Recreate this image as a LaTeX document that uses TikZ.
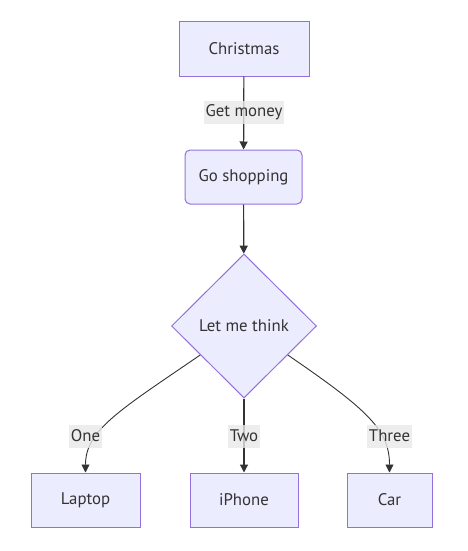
\documentclass[tikz,border=0pt]{standalone}
\usepackage{fontspec}
\setmainfont{PT Sans}
\usetikzlibrary{shapes.geometric,arrows.meta,calc}
\definecolor{nodefill}{HTML}{ECECFF}
\definecolor{nodeline}{HTML}{9370DB}
\definecolor{txt}{HTML}{333333}
\definecolor{lblbg}{HTML}{E8E8E8}
\begin{document}
\begin{tikzpicture}[x=1pt,y=-1pt,
 box/.style={draw=nodeline,fill=nodefill,line width=1pt,minimum height=54pt,inner sep=0pt,text=txt,font=\fontsize{16.8}{19}\selectfont},
 rbox/.style={box,rounded corners=5pt},
 choice/.style={box,diamond,minimum width=145pt,minimum height=144pt},
 lbl/.style={fill=lblbg,fill opacity=0.8,text opacity=1,text=txt,inner xsep=1.5pt,inner ysep=0pt,minimum height=23pt,font=\fontsize{16.8}{19}\selectfont},
 link/.style={draw=txt,line width=1.2pt,-{Triangle[length=8pt,width=8pt]}},
 curvelink/.style={link,line width=0.9pt}]
\useasboundingbox (0,0) rectangle (467,551);
\node[box,minimum width=130pt] (xmas) at (244,49) {Christmas};
\node[rbox,minimum width=117pt] (shop) at (243.5,177) {Go shopping};
\node[choice] (dia) at (244,326) {Let me think};
\node[box,minimum width=109pt] (laptop) at (85.5,500) {Laptop};
\node[box,minimum width=108pt] (iphone) at (244,500) {iPhone};
\node[box,minimum width=85pt] (car) at (389.5,500) {Car};
\coordinate (l0) at ($(dia.west)!0.4!(dia.south)$);
\coordinate (r0) at ($(dia.east)!0.4!(dia.south)$);
\draw[link] (xmas) -- (shop);
\draw[link] (shop) -- (dia);
\draw[link] (dia) -- (iphone);
\draw[curvelink] (l0) .. controls (120,410) and (85.5,430) .. (laptop.north);
\draw[curvelink] (r0) .. controls (368,410) and (389.5,430) .. (car.north);
\node[lbl] (lmoney) at (244,112) {Get money};
\node[lbl] (lone) at (85.5,436) {One};
\node[lbl] (ltwo) at (244,436) {Two};
\node[lbl] (lthree) at (389.5,436) {Three};
\end{tikzpicture}
\end{document}
